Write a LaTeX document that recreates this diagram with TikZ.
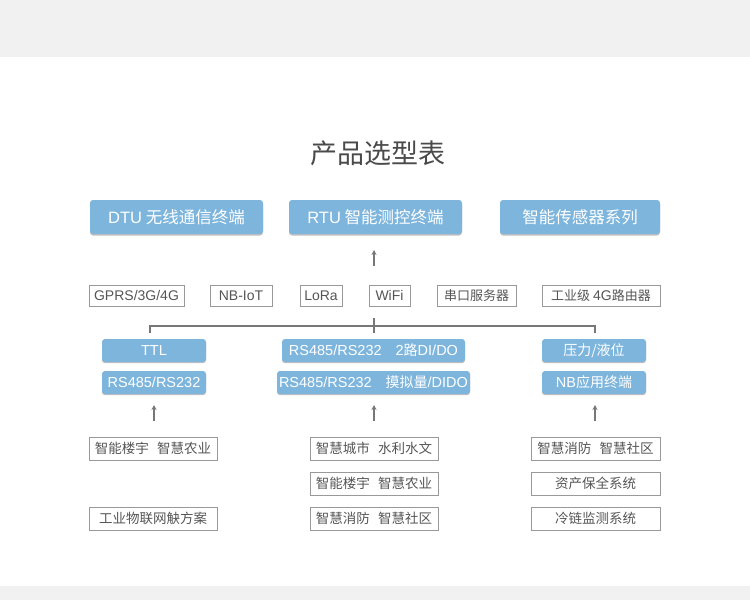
\documentclass[tikz,border=0pt]{standalone}
\usepackage{fontspec}
\setmainfont{Noto Sans CJK SC}
\newfontfamily\lat{Liberation Sans}
\usetikzlibrary{arrows.meta,shadows}
\definecolor{bandgray}{HTML}{F1F1F1}
\definecolor{boxblue}{HTML}{7DB5DC}
\definecolor{titlegray}{HTML}{4A4A4A}
\definecolor{linegray}{HTML}{777777}
\definecolor{bordergray}{HTML}{999999}
\definecolor{textgray}{HTML}{555555}
\newcommand{\latm}{\lat\fontsize{14.5}{16}\selectfont}
\tikzset{
  bluebig/.style={rectangle, rounded corners=3pt, fill=boxblue, text=white, inner sep=0pt,
    minimum height=34pt, font=\fontsize{16.5}{19}\selectfont,
    drop shadow={shadow xshift=0pt, shadow yshift=-1.5pt, opacity=0.25, fill=black}},
  bluesmall/.style={rectangle, rounded corners=3pt, fill=boxblue, text=white, inner sep=0pt,
    minimum height=23pt, font=\fontsize{14}{16}\selectfont,
    drop shadow={shadow xshift=0pt, shadow yshift=-1.2pt, opacity=0.25, fill=black}},
  outbox/.style={rectangle, draw=bordergray, line width=0.9pt, text=textgray, inner sep=0pt,
    minimum height=21pt, font=\fontsize{13}{15}\selectfont},
  appbox/.style={rectangle, draw=bordergray, line width=0.9pt, text=textgray, inner sep=0pt,
    minimum height=23pt, font=\fontsize{13.5}{15}\selectfont},
  uparrow/.style={draw=linegray, line width=1.6pt, -{Stealth[length=5pt,width=5pt]}},
  treeline/.style={draw=linegray, line width=1.1pt},
}
\begin{document}
\begin{tikzpicture}[x=1pt,y=-1pt]
\useasboundingbox (0,0) rectangle (750,600);
\fill[bandgray] (0,0) rectangle (750,57);
\fill[bandgray] (0,586) rectangle (750,600);

\node[text=titlegray, font=\fontsize{27}{30}\selectfont] (title) at (378,153) {产品选型表};

% row 1
\node[bluebig, minimum width=173pt] (dtu) at (176.5,217) {{\lat DTU} 无线通信终端};
\node[bluebig, minimum width=173pt] (rtu) at (375.5,217) {{\lat RTU} 智能测控终端};
\node[bluebig, minimum width=160pt] (sens) at (580,217) {智能传感器系列};

% arrow under RTU
\coordinate (a1s) at (374,266);
\coordinate (a1e) at (374,250);
\draw[uparrow] (a1s) -- (a1e);

% row 2
\node[outbox, minimum width=95pt] (gprs) at (136.5,295.5) {\lat\fontsize{14}{16}\selectfont GPRS/3G/4G};
\node[outbox, minimum width=62pt] (nbiot) at (241,295.5) {\lat\fontsize{14}{16}\selectfont NB-IoT};
\node[outbox, minimum width=42pt] (lora) at (321,295.5) {\lat\fontsize{14}{16}\selectfont LoRa};
\node[outbox, minimum width=41pt] (wifi) at (389.5,295.5) {\lat\fontsize{14}{16}\selectfont WiFi};
\node[outbox, minimum width=79pt] (serial) at (476.5,295.5) {串口服务器};
\node[outbox, minimum width=118pt] (router) at (601,295.5) {工业级 {\lat\fontsize{14}{16}\selectfont 4G}路由器};

% tree connector
\coordinate (tl) at (150,333);
\coordinate (tlc) at (150,326);
\coordinate (trc) at (595,326);
\coordinate (tr) at (595,333);
\coordinate (tmt) at (374,318);
\coordinate (tmb) at (374,333);
\draw[treeline] (tl) -- (tlc) -- (trc) -- (tr);
\draw[treeline] (tmt) -- (tmb);

% row 3
\node[bluesmall, minimum width=104pt] (ttl) at (154,350.5) {\latm TTL};
\node[bluesmall, minimum width=104pt] (rsl) at (154,382.5) {\latm RS485/RS232};
\node[bluesmall, minimum width=183pt] (mid1) at (373.5,350.5) {{\latm RS485/RS232}\hspace{1em}{\latm 2}路{\latm DI/DO}};
\node[bluesmall, minimum width=193pt] (mid2) at (373.5,382.5) {{\latm RS485/RS232}\hspace{1em}摸拟量{\latm /DIDO}};
\node[bluesmall, minimum width=104pt] (press) at (594,350.5) {压力/液位};
\node[bluesmall, minimum width=104pt] (nbterm) at (594,382.5) {{\latm NB}应用终端};

% arrows
\coordinate (a2s) at (154,421); \coordinate (a2e) at (154,405);
\coordinate (a3s) at (374,421); \coordinate (a3e) at (374,405);
\coordinate (a4s) at (595,421); \coordinate (a4e) at (595,405);
\draw[uparrow] (a2s) -- (a2e);
\draw[uparrow] (a3s) -- (a3e);
\draw[uparrow] (a4s) -- (a4e);

% applications
\node[appbox, minimum width=128pt] (l1) at (153,448.5) {智能楼宇\hspace{0.6em}智慧农业};
\node[appbox, minimum width=128pt] (l3) at (153,518.5) {工业物联网觖方案};
\node[appbox, minimum width=128pt] (m1) at (374,448.5) {智慧城市\hspace{0.6em}水利水文};
\node[appbox, minimum width=128pt] (m2) at (374,483.5) {智能楼宇\hspace{0.6em}智慧农业};
\node[appbox, minimum width=128pt] (m3) at (374,518.5) {智慧消防\hspace{0.6em}智慧社区};
\node[appbox, minimum width=129pt] (r1) at (595.5,448.5) {智慧消防\hspace{0.6em}智慧社区};
\node[appbox, minimum width=129pt] (r2) at (595.5,483.5) {资产保全系统};
\node[appbox, minimum width=129pt] (r3) at (595.5,518.5) {冷链监测系统};
\end{tikzpicture}
\end{document}
